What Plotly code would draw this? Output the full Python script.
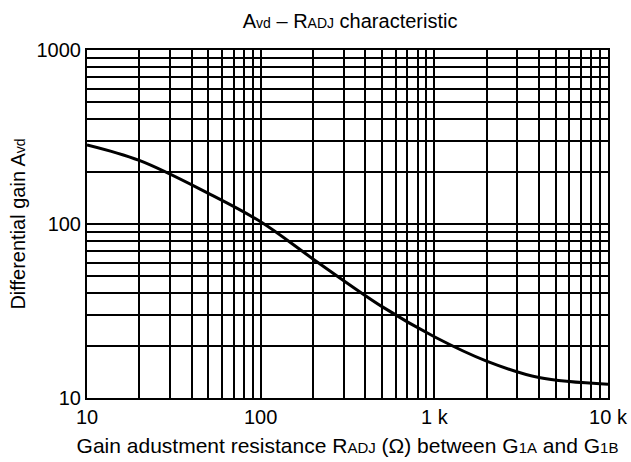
import plotly.graph_objects as go

# Curve data
r_adj = [10, 20, 50, 100, 200, 500, 1000, 2000, 4000, 10000]
avd = [285, 232, 150, 103, 63, 33.5, 22.5, 16.3, 13.1, 12.0]

x_major = [10, 100, 1000, 10000]
x_major_text = ["10", "100", "1 k", "10 k"]
y_major = [10, 100, 1000]
y_major_text = ["10", "100", "1000"]

def grid_vals(lo_exp, hi_exp):
    vals = []
    for e in range(lo_exp, hi_exp):
        for m in range(1, 10):
            vals.append(m * 10 ** e)
    vals.append(10 ** hi_exp)
    return vals

xv = grid_vals(1, 4)
yv = grid_vals(1, 3)
xt = [x_major_text[x_major.index(v)] if v in x_major else "" for v in xv]
yt = [y_major_text[y_major.index(v)] if v in y_major else "" for v in yv]

FONT = "Liberation Sans, Arial, sans-serif"
def sub(s, size):
    return '<span style="font-size:%dpx">%s</span>' % (size, s)

fig = go.Figure()
fig.add_trace(go.Scatter(x=r_adj, y=avd, mode="lines",
                         line=dict(color="black", width=3, shape="spline"),
                         showlegend=False, hoverinfo="skip"))

fig.update_layout(
    width=631, height=462,
    margin=dict(l=87, r=23, t=50, b=64, autoexpand=False),
    paper_bgcolor="white", plot_bgcolor="white",
    font=dict(family=FONT, color="black"),
    title=dict(text="A" + sub("vd", 14) + " – R" + sub("ADJ", 14) + " characteristic",
               x=0.505, xref="paper", xanchor="center", y=0.955, yanchor="middle",
               font=dict(size=20, family=FONT, color="black")),
)
fig.update_xaxes(type="log", range=[1, 4], tickvals=xv, ticktext=xt,
                 showgrid=True, gridcolor="black", gridwidth=1.5,
                 showline=True, linecolor="black", linewidth=2, mirror=True,
                 ticks="", tickfont=dict(size=20, family=FONT, color="black"),
                 automargin=False,
                 title=dict(text="Gain adustment resistance R" + sub("ADJ", 15) + " (Ω) between G" + sub("1A", 15) + " and G" + sub("1B", 15),
                            font=dict(size=21, family=FONT, color="black"), standoff=11),
                 zeroline=False)
fig.update_yaxes(type="log", range=[1, 3], tickvals=yv, ticktext=yt,
                 showgrid=True, gridcolor="black", gridwidth=1.5,
                 showline=True, linecolor="black", linewidth=2, mirror=True,
                 ticks="", tickfont=dict(size=20, family=FONT, color="black"),
                 automargin=False,
                 title=dict(text="Differential gain A" + sub("vd", 14),
                            font=dict(size=20, family=FONT, color="black"), standoff=6),
                 zeroline=False)

fig.write_html("out.html")
